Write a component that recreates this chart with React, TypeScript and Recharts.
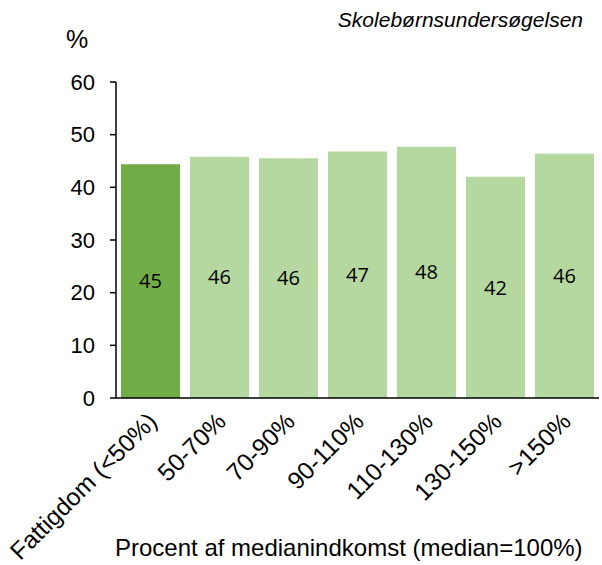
import React from "react"
import { BarChart, Bar, XAxis, YAxis, Cell, LabelList } from "recharts"

// income groups, percent of median income
const categories = ["Fattigdom (<50%)", "50-70%", "70-90%", "90-110%", "110-130%", "130-150%", ">150%"]
const shares = [44.4, 45.8, 45.5, 46.8, 47.7, 42.0, 46.4]
const shareLabels = ["45", "46", "46", "47", "48", "42", "46"]
const yTicks = [0, 10, 20, 30, 40, 50, 60]

const DARK_GREEN = "#70AD47"
const LIGHT_GREEN = "#B5D8A0"
const AXIS_FONT = "'Liberation Sans', Arial, sans-serif"

const data = categories.map((name, i) => ({
  name,
  value: shares[i],
  label: shareLabels[i],
}))

// rotated category label, anchored at its end
const AngledTick = (props: any) => {
  const { x, y, payload } = props
  return (
    <g transform={`translate(${x + 8},${y + 25})`}>
      <text
        x={0}
        y={0}
        textAnchor="end"
        transform="rotate(-45)"
        fill="#000"
        fontSize={24.5}
        fontFamily={AXIS_FONT}
      >
        {payload.value}
      </text>
    </g>
  )
}

export default function App() {
  return (
    <div style={{ position: "absolute", left: 0, top: 0, width: 602, height: 565, background: "#fff" }}>
      <BarChart
        width={602}
        height={565}
        data={data}
        margin={{ top: 82, right: 3, bottom: 0, left: 0 }}
        barCategoryGap={5}
      >
        <XAxis
          dataKey="name"
          height={167}
          interval={0}
          tickLine={false}
          tickSize={0}
          tickMargin={0}
          axisLine={{ stroke: "#000", strokeWidth: 1.5 }}
          tick={<AngledTick />}
        />
        <YAxis
          width={116}
          domain={[0, 60]}
          ticks={yTicks}
          interval={0}
          tickSize={6}
          tickMargin={15}
          axisLine={{ stroke: "#000", strokeWidth: 1.5 }}
          tickLine={{ stroke: "#000", strokeWidth: 1.5 }}
          tick={{ fill: "#000", fontSize: 22, fontFamily: AXIS_FONT }}
        />
        <Bar dataKey="value" isAnimationActive={false}>
          {data.map((entry, index) => (
            <Cell key={`cell-${index}`} fill={index === 0 ? DARK_GREEN : LIGHT_GREEN} />
          ))}
          <LabelList
            dataKey="label"
            position="center"
            fill="#000"
            fontSize={20}
            fontFamily="'Open Sans', sans-serif"
          />
        </Bar>
      </BarChart>
      <svg
        width={602}
        height={565}
        style={{ position: "absolute", left: 0, top: 0, pointerEvents: "none" }}
      >
        <text x={66} y={48} fontSize={25} fontFamily={AXIS_FONT} fill="#000">%</text>
        <text
          x={583}
          y={27}
          textAnchor="end"
          fontSize={21}
          fontStyle="italic"
          fontFamily={AXIS_FONT}
          fill="#000"
        >
          Skolebørnsundersøgelsen
        </text>
        <text x={115} y={556} fontSize={24} fontFamily={AXIS_FONT} fill="#000">
          Procent af medianindkomst (median=100%)
        </text>
      </svg>
    </div>
  )
}
